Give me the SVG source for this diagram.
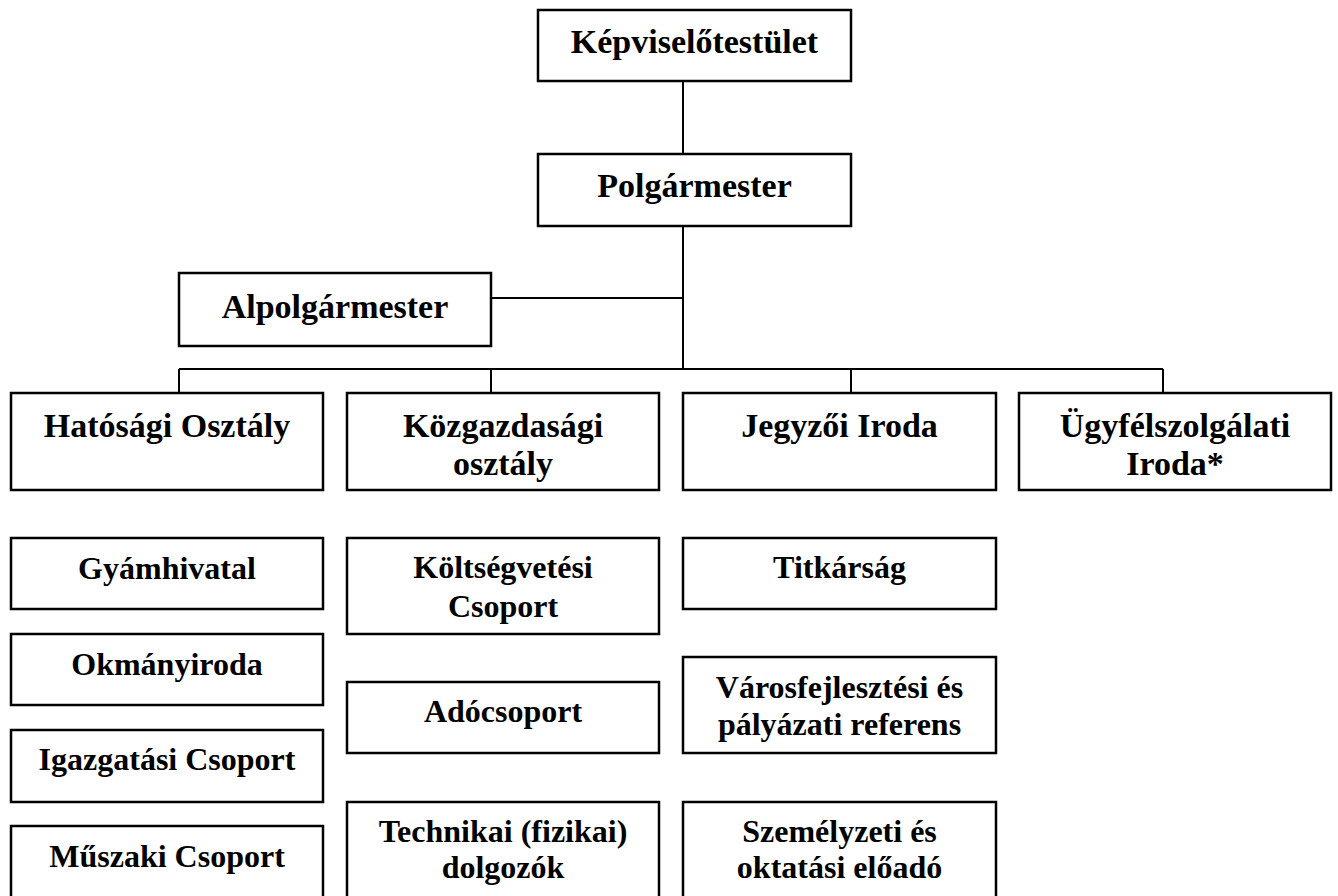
<svg xmlns="http://www.w3.org/2000/svg" width="1338" height="896" viewBox="0 0 1338 896">
<style>
.box{fill:#fff;stroke:#000;stroke-width:2.5}
.ln{stroke:#000;stroke-width:2;fill:none}
text{font-family:"Liberation Serif","Times New Roman",serif;font-weight:bold;font-size:34px;fill:#000;text-anchor:middle}
.sub text{font-size:32px}
</style>
<rect x="0" y="0" width="1338" height="896" fill="#fff"/>
<g id="connectors">
<line class="ln" x1="683" y1="81" x2="683" y2="154"/>
<line class="ln" x1="683" y1="226" x2="683" y2="369"/>
<line class="ln" x1="491" y1="298" x2="683" y2="298"/>
<line class="ln" x1="179" y1="369" x2="1163" y2="369"/>
<line class="ln" x1="179" y1="369" x2="179" y2="393"/>
<line class="ln" x1="491" y1="369" x2="491" y2="393"/>
<line class="ln" x1="851" y1="369" x2="851" y2="393"/>
<line class="ln" x1="1163" y1="369" x2="1163" y2="393"/>
</g>
<g id="kepviselotestulet"><rect class="box" x="538" y="10" width="313" height="71"/><text x="694.5" y="53">Képviselőtestület</text></g>
<g id="polgarmester"><rect class="box" x="538" y="154" width="313" height="72"/><text x="694.5" y="197">Polgármester</text></g>
<g id="alpolgarmester"><rect class="box" x="179" y="273" width="312" height="73"/><text x="335" y="318">Alpolgármester</text></g>
<g id="hatosagi"><rect class="box" x="11" y="393" width="312" height="97"/><text x="167" y="437">Hatósági Osztály</text></g>
<g id="kozgazdasagi"><rect class="box" x="347" y="393" width="312" height="97"/><text x="503" y="437">Közgazdasági</text><text x="503" y="475">osztály</text></g>
<g id="jegyzoi"><rect class="box" x="683" y="393" width="313" height="97"/><text x="839.5" y="437">Jegyzői Iroda</text></g>
<g id="ugyfelszolgalati"><rect class="box" x="1019" y="393" width="312" height="97"/><text x="1175" y="437">Ügyfélszolgálati</text><text x="1175" y="475">Iroda*</text></g>
<g class="sub" id="gyamhivatal"><rect class="box" x="11" y="538" width="312" height="71"/><text x="167" y="579">Gyámhivatal</text></g>
<g class="sub" id="okmanyiroda"><rect class="box" x="11" y="634" width="312" height="71"/><text x="167" y="675">Okmányiroda</text></g>
<g class="sub" id="igazgatasi"><rect class="box" x="11" y="730" width="312" height="72"/><text x="167" y="770">Igazgatási Csoport</text></g>
<g class="sub" id="muszaki"><rect class="box" x="11" y="826" width="312" height="96"/><text x="167" y="867">Műszaki Csoport</text></g>
<g class="sub" id="koltsegvetesi"><rect class="box" x="347" y="538" width="312" height="96"/><text x="503" y="578">Költségvetési</text><text x="503" y="617">Csoport</text></g>
<g class="sub" id="adocsoport"><rect class="box" x="347" y="682" width="312" height="71"/><text x="503" y="722">Adócsoport</text></g>
<g class="sub" id="technikai"><rect class="box" x="347" y="802" width="312" height="120"/><text x="503" y="842">Technikai (fizikai)</text><text x="503" y="878">dolgozók</text></g>
<g class="sub" id="titkarsag"><rect class="box" x="683" y="538" width="313" height="71"/><text x="839.5" y="578">Titkárság</text></g>
<g class="sub" id="varosfejlesztesi"><rect class="box" x="683" y="657" width="313" height="96"/><text x="839.5" y="698">Városfejlesztési és</text><text x="839.5" y="735">pályázati referens</text></g>
<g class="sub" id="szemelyzeti"><rect class="box" x="683" y="802" width="313" height="120"/><text x="839.5" y="842">Személyzeti és</text><text x="839.5" y="878">oktatási előadó</text></g>
</svg>
